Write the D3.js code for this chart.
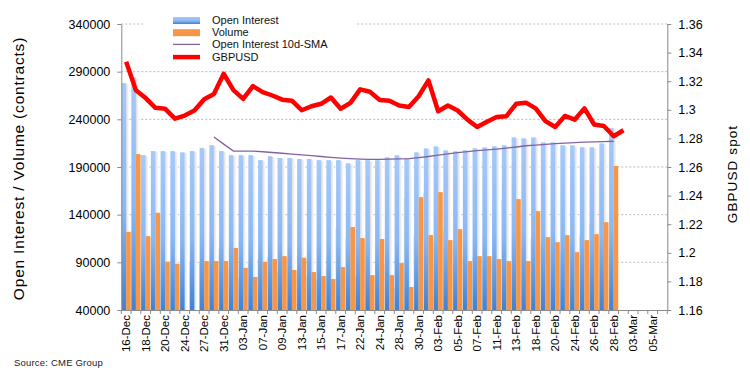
<!DOCTYPE html>
<html>
<head>
<meta charset="utf-8">
<script src="https://cdn.jsdelivr.net/npm/d3@7"></script>
<style>
  body { margin: 0; background: #fff; }
  svg { display: block; font-family: "Liberation Sans", Arial, sans-serif; }
</style>
</head>
<body>
<div id="chart"></div>
<script>
// trading days on the category axis
let dates = ['16-Dec','17-Dec','18-Dec','19-Dec','20-Dec','23-Dec','24-Dec','26-Dec','27-Dec','30-Dec','31-Dec',
  '02-Jan','03-Jan','06-Jan','07-Jan','08-Jan','09-Jan','10-Jan','13-Jan','14-Jan','15-Jan','16-Jan','17-Jan',
  '21-Jan','22-Jan','23-Jan','24-Jan','27-Jan','28-Jan','29-Jan','30-Jan','31-Jan',
  '03-Feb','04-Feb','05-Feb','06-Feb','07-Feb','10-Feb','11-Feb','12-Feb','13-Feb','14-Feb',
  '18-Feb','19-Feb','20-Feb','21-Feb','24-Feb','25-Feb','26-Feb','27-Feb','28-Feb',
  '02-Mar','03-Mar','04-Mar','05-Mar','06-Mar'];

let openInterest = [278000,284000,202500,206700,206700,206700,205400,206700,210000,213000,206700,
  202500,202500,202500,197200,201300,199500,199500,198400,198400,197200,197200,197200,
  193900,197200,197200,197200,200200,202300,199100,205400,209600,
  211700,207500,206500,207500,209600,210700,211700,212800,221100,220100,
  221100,215900,215900,212800,212800,210700,210700,214800,230700];

let volume = [122000,203500,117500,142000,90700,88500,null,null,91300,91300,91300,
  105000,84200,74600,90500,93400,96500,82000,94800,79800,75600,72500,85000,
  127000,115400,76600,114500,76600,89200,64100,158400,118600,
  163600,113300,124900,91300,96500,96500,93400,91300,156300,91300,
  143700,116400,111200,118500,100700,113300,119600,132100,191000];

// 10-day SMA of open interest, first value on the 10th day (30-Dec)
let smaStart = 9;
let smaOI = [221500,214000,206700,206700,206700,206000,205200,204400,203600,202800,202000,201000,200100,
  199300,198700,198300,198100,198100,198200,198500,198800,199800,201000,202400,203700,205000,
  206200,207200,208000,208800,209800,211000,212300,213000,213800,214500,215000,215500,216000,
  216300,216600,217000];

let gbpusd = [1.3336,1.3136,1.3082,1.3014,1.3007,1.2938,1.2960,1.2995,1.3074,1.3110,1.3252,
  1.3138,1.3076,1.3166,1.3124,1.3100,1.3071,1.3064,1.2997,1.3025,1.3042,1.3086,1.3007,
  1.3048,1.3143,1.3126,1.3069,1.3063,1.3030,1.3020,1.3095,1.3206,
  1.2990,1.3030,1.2995,1.2931,1.2880,1.2917,1.2950,1.2955,1.3042,1.3050,
  1.3010,1.2921,1.2880,1.2957,1.2931,1.3010,1.2897,1.2887,1.2815,1.2857];

let leftTicks = [40000,90000,140000,190000,240000,290000,340000];
let rightTicks = [1.16,1.18,1.2,1.22,1.24,1.26,1.28,1.3,1.32,1.34,1.36];
let labelDates = dates.filter((d,i) => i % 2 === 0);

let legendItems = ['Open Interest','Volume','Open Interest 10d-SMA','GBPUSD'];

function draw_chart(){
    let left = 121.3, right = 667.3, top = 24, bottom = 310;
    let axisColor = '#8a8a8a';

    let svg = d3.select('#chart').append('svg')
        .attr('width', 750)
        .attr('height', 378);

    let defs = svg.append('defs');
    let g1 = defs.append('linearGradient').attr('id','oiGrad')
        .attr('x1',0).attr('y1',0).attr('x2',0).attr('y2',1);
    g1.append('stop').attr('offset','0%').attr('stop-color','#a6c9f9');
    g1.append('stop').attr('offset','55%').attr('stop-color','#8bb8f3');
    g1.append('stop').attr('offset','100%').attr('stop-color','#4082d3');
    let g2 = defs.append('linearGradient').attr('id','shadeGrad')
        .attr('x1',0).attr('y1',0).attr('x2',1).attr('y2',0);
    g2.append('stop').attr('offset','0%').attr('stop-color','#dcdcdc');
    g2.append('stop').attr('offset','100%').attr('stop-color','#ffffff');

    let x = d3.scaleBand().domain(dates).range([left, right]);
    let bw = x.bandwidth();
    let yL = d3.scaleLinear().domain([40000, 340000]).range([bottom, top]);
    let yR = d3.scaleLinear().domain([1.16, 1.36]).range([bottom, top]);

    // dashed gridlines
    svg.append('g')
        .selectAll('line')
        .data(leftTicks.slice(1))
        .enter()
        .append('line')
        .attr('x1', left).attr('x2', right)
        .attr('y1', d => yL(d)).attr('y2', d => yL(d))
        .attr('stroke', '#b8b8b8')
        .attr('stroke-dasharray', '2,2');

    // soft shadow to the right of the bars
    let bars = svg.append('g');
    bars.selectAll('.shadeOI')
        .data(openInterest)
        .enter()
        .append('rect')
        .attr('x', (d,i) => x(dates[i]) + 0.5*bw)
        .attr('width', 3)
        .attr('y', d => yL(d) + 1)
        .attr('height', d => bottom - yL(d) - 1)
        .attr('fill', 'url(#shadeGrad)');

    bars.selectAll('.shadeVol')
        .data(volume)
        .enter()
        .filter(d => d !== null)
        .append('rect')
        .attr('x', (d,i) => x(dates[i]) + 0.97*bw)
        .attr('width', 2.5)
        .attr('y', d => yL(d) + 1)
        .attr('height', d => bottom - yL(d) - 1)
        .attr('fill', 'url(#shadeGrad)');

    bars.selectAll('.oi')
        .data(openInterest)
        .enter()
        .append('rect')
        .attr('x', (d,i) => x(dates[i]) + 0.03*bw)
        .attr('width', 0.47*bw)
        .attr('y', d => yL(d))
        .attr('height', d => bottom - yL(d))
        .attr('fill', 'url(#oiGrad)');

    bars.selectAll('.vol')
        .data(volume.map((v,i) => ({v: v, d: dates[i]})).filter(o => o.v !== null))
        .enter()
        .append('rect')
        .attr('x', o => x(o.d) + 0.5*bw)
        .attr('width', 0.47*bw)
        .attr('y', o => yL(o.v))
        .attr('height', o => bottom - yL(o.v))
        .attr('fill', '#f79646');

    // SMA line
    let smaLine = d3.line()
        .x((d,i) => x(dates[i + smaStart]) + bw/2)
        .y(d => yL(d));
    svg.append('path')
        .attr('d', smaLine(smaOI))
        .attr('fill', 'none')
        .attr('stroke', '#8064a2')
        .attr('stroke-width', 1.3);

    // GBPUSD line
    let fxLine = d3.line()
        .x((d,i) => x(dates[i]) + bw/2)
        .y(d => yR(d));
    svg.append('path')
        .attr('d', fxLine(gbpusd))
        .attr('fill', 'none')
        .attr('stroke', '#ff0000')
        .attr('stroke-width', 4.5)
        .attr('stroke-linejoin', 'round');

    // legend
    let leg = svg.append('g');
    leg.append('rect')
        .attr('x', 145).attr('y', 8).attr('width', 212).attr('height', 58)
        .attr('fill', '#fff');
    let rowY = d => 24 + 12.2*d;
    leg.append('rect').attr('x',173).attr('y',rowY(0)-7).attr('width',27).attr('height',7).attr('fill','url(#oiGrad)');
    leg.append('rect').attr('x',173).attr('y',rowY(1)-7).attr('width',27).attr('height',7).attr('fill','#f79646');
    leg.append('line').attr('x1',173).attr('x2',200).attr('y1',rowY(2)-4).attr('y2',rowY(2)-4)
        .attr('stroke','#8064a2').attr('stroke-width',1.3);
    leg.append('line').attr('x1',173).attr('x2',200).attr('y1',rowY(3)-3.5).attr('y2',rowY(3)-3.5)
        .attr('stroke','#ff0000').attr('stroke-width',4.5);
    leg.selectAll('text')
        .data(legendItems)
        .enter()
        .append('text')
        .attr('x', 212)
        .attr('y', (d,i) => rowY(i))
        .attr('font-size', '11px')
        .attr('fill', '#111')
        .text(d => d);

    // axes
    let styleAxis = g => {
        g.select('.domain').attr('stroke', axisColor);
        g.selectAll('.tick line').attr('stroke', axisColor);
        g.selectAll('.tick text').attr('fill', '#000').attr('font-size', '12.5px')
            .attr('font-family', '"Liberation Sans", Arial, sans-serif');
    };

    svg.append('g')
        .attr('transform', `translate(${left},0)`)
        .call(d3.axisLeft(yL).tickValues(leftTicks).tickSize(4).tickSizeOuter(0).tickPadding(7).tickFormat(d3.format('d')))
        .call(styleAxis);

    svg.append('g')
        .attr('transform', `translate(${right},0)`)
        .call(d3.axisRight(yR).tickValues(rightTicks).tickSize(4).tickSizeOuter(0).tickPadding(7)
            .tickFormat(d => String(+d.toFixed(2))))
        .call(styleAxis);

    let xAxis = svg.append('g')
        .attr('transform', `translate(0,${bottom})`)
        .call(d3.axisBottom(x).tickValues(labelDates).tickSize(0).tickSizeOuter(0))
        .call(styleAxis);
    xAxis.selectAll('.tick text')
        .attr('font-size', '11.5px')
        .attr('x', -5)
        .attr('y', 0)
        .attr('dy', '0.35em')
        .attr('transform', 'rotate(-90)')
        .style('text-anchor', 'end');

    // category boundary ticks
    svg.append('g')
        .selectAll('line')
        .data(dates.map(d => x(d)).concat([right]))
        .enter()
        .append('line')
        .attr('x1', d => d).attr('x2', d => d)
        .attr('y1', bottom).attr('y2', bottom + 4)
        .attr('stroke', axisColor);

    // axis titles
    svg.append('text')
        .attr('transform', 'translate(24,168.5) rotate(-90)')
        .attr('text-anchor', 'middle')
        .attr('font-size', '15.5px')
        .attr('letter-spacing', '0.8px')
        .attr('fill', '#000')
        .text('Open Interest / Volume (contracts)');

    svg.append('text')
        .attr('transform', 'translate(737,174) rotate(-90)')
        .attr('text-anchor', 'middle')
        .attr('font-size', '13.5px')
        .attr('letter-spacing', '1.1px')
        .attr('fill', '#000')
        .text('GBPUSD spot');

    svg.append('text')
        .attr('x', 14).attr('y', 366)
        .attr('font-size', '9.5px')
        .attr('letter-spacing', '0.2px')
        .attr('fill', '#222')
        .text('Source: CME Group');
}

draw_chart();
</script>
</body>
</html>
